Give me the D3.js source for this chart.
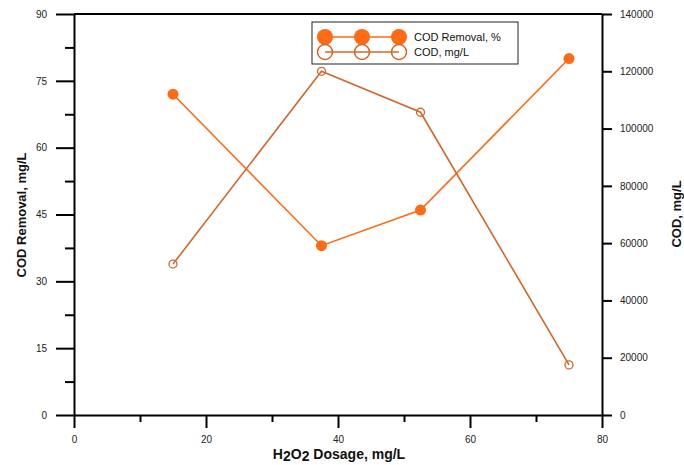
<!DOCTYPE html>
<html><head><meta charset="utf-8">
<script src="https://cdn.jsdelivr.net/npm/d3@7"></script>
<style>
body{margin:0;background:#fff;}
text{font-family:"Liberation Sans",Arial,sans-serif;}
</style></head>
<body><svg id="c" width="684" height="465"></svg>
<script>
const dosage = [15, 37.5, 52.5, 75];
const codRemoval = [72, 38, 46, 80];
const codMgL = [52700, 120000, 105700, 17500];
const xTicks = [0, 20, 40, 60, 80];
const leftTicks = [0, 15, 30, 45, 60, 75, 90];
const rightTicks = [0, 20000, 40000, 60000, 80000, 100000, 120000, 140000];
const seriesNames = ["COD Removal, %", "COD, mg/L"];

const c1 = "#ff6a14", c2 = "#d2672c";
const svg = d3.select("#c");
const L = 74, R = 602, T = 14, B = 415;
const x = d3.scaleLinear().domain([0, 80]).range([L, R]);
const yL = d3.scaleLinear().domain([0, 90]).range([B, T]);
const yR = d3.scaleLinear().domain([0, 140000]).range([B, T]);

function styleAxis(g){
  g.selectAll("path").attr("stroke","#000").attr("stroke-width",2);
  g.selectAll("line").attr("stroke","#000").attr("stroke-width",2);
  g.selectAll("text").attr("font-size",10).attr("fill","#222").attr("font-family","'Liberation Sans',Arial,sans-serif");
}
svg.append("line").attr("x1",L).attr("x2",R).attr("y1",T).attr("y2",T).attr("stroke","#000").attr("stroke-width",2);

svg.append("g").attr("transform",`translate(0,${B})`)
  .call(d3.axisBottom(x).tickValues([10,30,50,70]).tickSize(7).tickFormat("").tickSizeOuter(0))
  .call(styleAxis).select("path").remove();
svg.append("g").attr("transform",`translate(0,${B})`)
  .call(d3.axisBottom(x).tickValues(xTicks).tickSize(13).tickPadding(8).tickSizeOuter(0).tickFormat(d3.format("d")))
  .call(styleAxis);
svg.append("g").attr("transform",`translate(${L},0)`)
  .call(d3.axisLeft(yL).tickValues(d3.range(7.5,90,15)).tickSize(9).tickFormat("").tickSizeOuter(0))
  .call(styleAxis).select("path").remove();
svg.append("g").attr("transform",`translate(${L},0)`)
  .call(d3.axisLeft(yL).tickValues(leftTicks).tickSize(18).tickPadding(9).tickSizeOuter(0).tickFormat(d3.format("d")))
  .call(styleAxis);
svg.append("g").attr("transform",`translate(${R},0)`)
  .call(d3.axisRight(yR).tickValues(rightTicks).tickSize(10).tickPadding(8).tickSizeOuter(0).tickFormat(d3.format("d")))
  .call(styleAxis);

const xt = svg.append("text").attr("x",339).attr("y",459).attr("text-anchor","middle")
  .attr("font-size",14).attr("font-weight","bold").attr("fill","#111");
xt.append("tspan").text("H");
xt.append("tspan").attr("dy",2).text("2");
xt.append("tspan").attr("dy",-2).text("O");
xt.append("tspan").attr("dy",2).text("2");
xt.append("tspan").attr("dy",-2).text(" Dosage, mg/L");
svg.append("text").attr("transform","translate(26,215) rotate(-90)").attr("text-anchor","middle")
  .attr("font-size",13).attr("font-weight","bold").attr("fill","#111").text("COD Removal, mg/L");
svg.append("text").attr("transform","translate(681,214) rotate(-90)").attr("text-anchor","middle")
  .attr("font-size",13).attr("font-weight","bold").attr("fill","#111").text("COD, mg/L");

const line1 = d3.line().x((d,i)=>x(dosage[i])).y(d=>yL(d));
const line2 = d3.line().x((d,i)=>x(dosage[i])).y(d=>yR(d));
svg.append("path").attr("d",line1(codRemoval)).attr("fill","none").attr("stroke",c1).attr("stroke-width",1.6);
svg.append("path").attr("d",line2(codMgL)).attr("fill","none").attr("stroke",c2).attr("stroke-width",1.6);
svg.selectAll(".p1").data(codRemoval).join("circle").attr("cx",(d,i)=>x(dosage[i])).attr("cy",d=>yL(d))
  .attr("r",5.5).attr("fill",c1);
svg.selectAll(".p2").data(codMgL).join("circle").attr("cx",(d,i)=>x(dosage[i])).attr("cy",d=>yR(d))
  .attr("r",4).attr("fill","none").attr("stroke",c2).attr("stroke-width",1.3);

const lg = svg.append("g");
lg.append("rect").attr("x",312).attr("y",22).attr("width",206).attr("height",42)
  .attr("fill","#fff").attr("stroke","#222").attr("stroke-width",1);
const lx = [325,362,399];
[[37,c1,true],[52,c2,false]].forEach(([yy,col,filled],k)=>{
  lg.append("line").attr("x1",lx[0]).attr("x2",lx[2]).attr("y1",yy).attr("y2",yy).attr("stroke",col).attr("stroke-width",1.6);
  lx.forEach(xx=>{
    const cc = lg.append("circle").attr("cx",xx).attr("cy",yy);
    if(filled) cc.attr("r",8).attr("fill",col);
    else cc.attr("r",7.5).attr("fill","none").attr("stroke",col).attr("stroke-width",1.5);
  });
  lg.append("text").attr("x",414).attr("y",yy+4).attr("font-size",11).attr("fill","#111").text(seriesNames[k]);
});
</script></body></html>
